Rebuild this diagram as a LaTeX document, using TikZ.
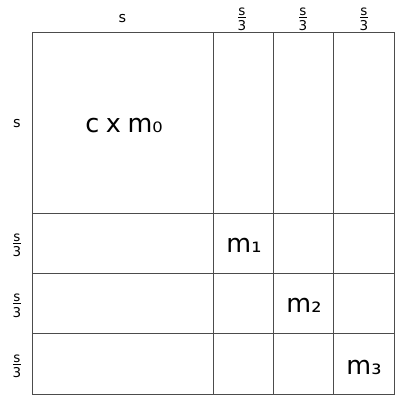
\documentclass[tikz,border=0pt]{standalone}
\usepackage{fontspec}
\setmainfont{DejaVu Sans}
\begin{document}
\begin{tikzpicture}[x=1pt,y=-1pt,
  gridline/.style={draw=black!70,line width=0.9pt},
  biglabel/.style={inner sep=0pt,anchor=base,font=\fontsize{25.5}{30}\selectfont},
  sizelabel/.style={inner sep=0pt,font=\fontsize{14.5}{16}\selectfont},
  fraclabel/.style={inner sep=0pt,align=center,font=\fontsize{13.5}{15.5}\selectfont}]
\useasboundingbox (0,0) rectangle (399,400);
% grid
\coordinate (tl) at (32,32);
\coordinate (br) at (394,394);
\draw[gridline] (tl) rectangle (br);
\foreach \v in {213,273.33,333.67}{
  \draw[gridline] (\v,32) -- (\v,394);
  \draw[gridline] (32,\v) -- (394,\v);
}
% top labels
\node[sizelabel] (ts) at (122.5,18.5) {s};
\node[fraclabel] (tf1) at (242,19.5) {\underline{s}\\3};
\node[fraclabel] (tf2) at (303,19.5) {\underline{s}\\3};
\node[fraclabel] (tf3) at (364,19.5) {\underline{s}\\3};
% left labels
\node[sizelabel] (ls) at (17,123.5) {s};
\node[fraclabel] (lf1) at (17,245.5) {\underline{s}\\3};
\node[fraclabel] (lf2) at (17,306) {\underline{s}\\3};
\node[fraclabel] (lf3) at (17,366.5) {\underline{s}\\3};
% cell contents
\node[biglabel] (m0) at (124,132.5) {c\hspace{-1.5pt} x\hspace{-1.5pt} m₀};
\node[biglabel] (m1) at (244,252.5) {m₁};
\node[biglabel] (m2) at (304,312.5) {m₂};
\node[biglabel] (m3) at (364,374) {m₃};
\end{tikzpicture}
\end{document}
